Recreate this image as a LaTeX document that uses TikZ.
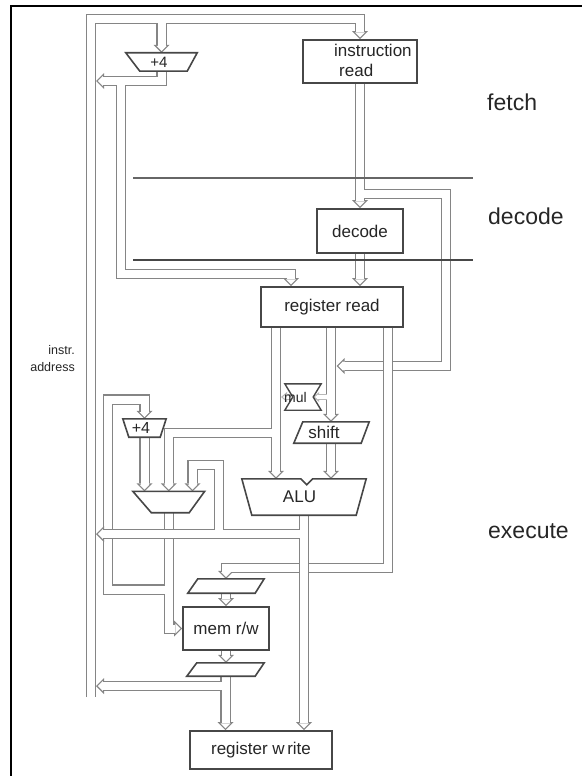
\documentclass[tikz,border=0pt]{standalone}
\usepackage{fontspec}
\setmainfont{Liberation Sans}
\usetikzlibrary{arrows.meta}

\pgfdeclarelayer{basewalls}
\pgfdeclarelayer{basefill}
\pgfdeclarelayer{midwalls}
\pgfdeclarelayer{midfill}
\pgfdeclarelayer{topwalls}
\pgfdeclarelayer{topfill}
\pgfdeclarelayer{units}
\pgfsetlayers{main,basewalls,basefill,midwalls,midfill,topwalls,topfill,units}

\colorlet{wallgray}{black!48}
\colorlet{tinygray}{black!28}
\colorlet{boxgray}{black!72}
\colorlet{inkgray}{black!85}

\tikzset{
  buswall/.style={draw=wallgray, line width=10.5pt, line join=miter},
  busfill/.style={draw=white, line width=8pt, line join=miter},
  wallhead/.style={-{Triangle[length=8pt,width=16pt,line width=0pt]}},
  fillhead/.style={shorten >=1.8pt, -{Triangle[length=5pt,width=10pt,line width=0pt]}},
  tinywall/.style={draw=tinygray, line width=6pt, line join=miter,
    -{Triangle[length=6pt,width=10pt,line width=0pt]}},
  tinyfill/.style={draw=white, line width=3.6pt, line join=miter,
    shorten >=1.9pt, -{Triangle[length=2.9pt,width=4.9pt,line width=0pt]}},
  unit/.style={draw=boxgray, line width=1.6pt, fill=white, line join=miter},
  box/.style={unit, rectangle, inner sep=0pt, text=inkgray, font=\fontsize{17}{20}\selectfont},
  outline/.style={inner sep=0pt},
  lbl/.style={inner sep=0pt, text=inkgray, font=\fontsize{17}{20}\selectfont},
  stage/.style={inner sep=0pt, text=inkgray, anchor=base west, font=\fontsize{23}{26}\selectfont},
}

% a bus: wide grey wall underneath, white core on top;
% the optional tier (base, mid, top) says which buses it passes over
\newcommand{\busto}[2][base]{%
  \begin{pgfonlayer}{#1walls}\draw[buswall,wallhead] #2;\end{pgfonlayer}
  \begin{pgfonlayer}{#1fill}\draw[busfill,fillhead] #2;\end{pgfonlayer}}
\newcommand{\tinybusto}[1]{%
  \begin{pgfonlayer}{basewalls}\draw[tinywall] #1;\end{pgfonlayer}
  \begin{pgfonlayer}{basefill}\draw[tinyfill] #1;\end{pgfonlayer}}

\begin{document}
\begin{tikzpicture}[x=1pt, y=-1pt]

    \useasboundingbox (0,0) rectangle (582,776);

    \begin{pgfonlayer}{units}
    %% Frame
    \draw[line width=2pt] (11,776) -- (11,6) -- (582,6);

    %% Stage borders
    \draw[draw=black!60, line width=1.3pt] (133,178) -- (473,178);
    \draw[draw=black!72, line width=2.6pt] (133,260) -- (473,260);

    %% Boxes
    \node[box, minimum width=114pt, minimum height=43pt] (ir) at (360,61.5) {};
    \node[lbl, anchor=west, align=left] (irtext) at (334,60) {instruction\\\hspace*{5pt}read};
    \node[box, minimum width=86pt, minimum height=44pt] (dec) at (360,231) {decode};
    \node[box, minimum width=142pt, minimum height=40pt] (rr) at (332,307) {register read};
    \node[box, minimum width=86pt, minimum height=43pt] (mem) at (226,628.5) {mem r/w};
    \node[box, minimum width=142pt, minimum height=38pt] (rw) at (261,750) {register w\kern2.5pt rite};

    %% Adders, mux, ALU
    \node[outline, minimum width=71pt, minimum height=18pt] (inc1) at (161.5,62) {};
    \draw[unit] (inc1.north west) -- (inc1.north east) -- ([xshift=-10pt]inc1.south east)
      -- ([xshift=14pt]inc1.south west) -- cycle
      (inc1.center) node[lbl, font=\fontsize{15}{18}\selectfont, xshift=-2.5pt] {+4};

    \node[outline, minimum width=43pt, minimum height=18pt] (inc2) at (144.5,428) {};
    \draw[unit] (inc2.north west) -- (inc2.north east) -- ([xshift=-6pt]inc2.south east)
      -- ([xshift=6pt]inc2.south west) -- cycle
      (inc2.center) node[lbl, font=\fontsize{16}{18}\selectfont, xshift=-3.5pt] {+4};

    \node[outline, minimum width=71.5pt, minimum height=21pt] (mux) at (168.75,502) {};
    \draw[unit] (mux.north west) -- (mux.north east) -- ([xshift=-15.5pt]mux.south east)
      -- ([xshift=18.5pt]mux.south west) -- cycle;

    \node[outline, minimum width=124pt, minimum height=36pt] (alu) at (304,497) {};
    \draw[unit] (alu.north west) -- ++(59,0) -- ++(6,6) -- ++(6,-6) -- (alu.north east)
      -- ([xshift=-10pt]alu.south east) -- ([xshift=10pt]alu.south west) -- cycle
      (alu.center) node[lbl, xshift=-4.5pt] {ALU};

    \node[outline, minimum width=36pt, minimum height=26pt] (mul) at (303,397) {};
    \draw[unit, line width=1.4pt] (mul.north west) -- (mul.north east) -- ([xshift=-8pt]mul.east)
      -- (mul.south east) -- (mul.south west) -- ([xshift=8pt]mul.west) -- cycle
      (mul.center) node[lbl, font=\fontsize{14}{16}\selectfont, xshift=-7.5pt] {mul};

    \node[outline, minimum width=75pt, minimum height=21pt] (shift) at (331.5,432.5) {};
    \draw[unit] ([xshift=9pt]shift.north west) -- (shift.north east)
      -- ([xshift=-8pt]shift.south east) -- (shift.south west) -- cycle
      (shift.center) node[lbl, xshift=-7.5pt] {shift};

    %% Latches round the memory
    \node[outline, minimum width=76pt, minimum height=14pt] (lat1) at (226,586) {};
    \draw[unit] ([xshift=10pt]lat1.north west) -- (lat1.north east)
      -- ([xshift=-9pt]lat1.south east) -- (lat1.south west) -- cycle;
    \node[outline, minimum width=77pt, minimum height=13pt] (lat2) at (225.5,669.5) {};
    \draw[unit] ([xshift=10pt]lat2.north west) -- (lat2.north east)
      -- ([xshift=-9pt]lat2.south east) -- (lat2.south west) -- cycle;

    %% Labels
    \node[lbl, anchor=east, align=right, font=\fontsize{12.5}{17}\selectfont] (addr) at (75,359) {instr.\\address};
    \node[stage] (stfetch) at (487,110) {fetch};
    \node[stage] (stdecode) at (488,224) {decode};
    \node[stage] (stexec) at (488,538) {execute};
    \end{pgfonlayer}

    %% Fetch
    \busto{(91,697) -- (91,19) -- (ir.north |- 0,19) -- (ir.north)}
    \busto{(inc1.north |- 0,19) -- (inc1.north)}
    \busto{(inc1.south) -- (inc1.south |- 0,81) -- (96,81)}
    \busto{(121,81) -- (121,274) -- (291,274) -- (291,0 |- rr.north)}
    \busto{(ir.south) -- (dec.north)}
    \busto{(ir.south |- 0,194) -- (446,194) -- (446,366) -- (336.5,366)}

    %% Decode
    \busto{(dec.south) -- (dec.south |- rr.north)}

    %% Execute
    \busto{(276,0 |- rr.south) -- (276,0 |- alu.north)}
    \busto{(276,433) -- (mux.north |- 0,433) -- (mux.north)}
    \busto{(331,0 |- rr.south) -- (331,0 |- shift.north)}
    \busto{(331,0 |- shift.south) -- (331,0 |- alu.north)}
    \busto[mid]{(388,0 |- rr.south) -- (388,568) -- (lat1.north |- 0,568) -- (lat1.north)}
    \tinybusto{(331,397) -- ([xshift=-8pt]mul.east)}
    \tinybusto{([xshift=7pt]mul.west) -- (281,397)}

    \busto[top]{(alu.south) -- (alu.south |- rw.north)}
    \busto[top]{(alu.south |- 0,534) -- (96,534)}
    \busto[top]{(219,534) -- (219,465) -- (192.5,465) -- (192.5,0 |- mux.north)}
    \busto{(inc2.south) -- (inc2.south |- mux.north)}
    \busto{(mux.south) -- (mux.south |- mem.west) -- (mem.west)}
    \busto{(mux.south |- 0,589.5) -- (108,589.5) -- (108,399.5) -- (inc2.north |- 0,399.5) -- (inc2.north)}

    %% Memory and write back
    \busto{(lat1.south) -- (lat1.south |- mem.north)}
    \busto{(mem.south) -- (mem.south |- lat2.north)}
    \busto{(lat2.south) -- (lat2.south |- rw.north)}
    \busto{(lat2.south |- 0,686) -- (96,686)}

\end{tikzpicture}
\end{document}
